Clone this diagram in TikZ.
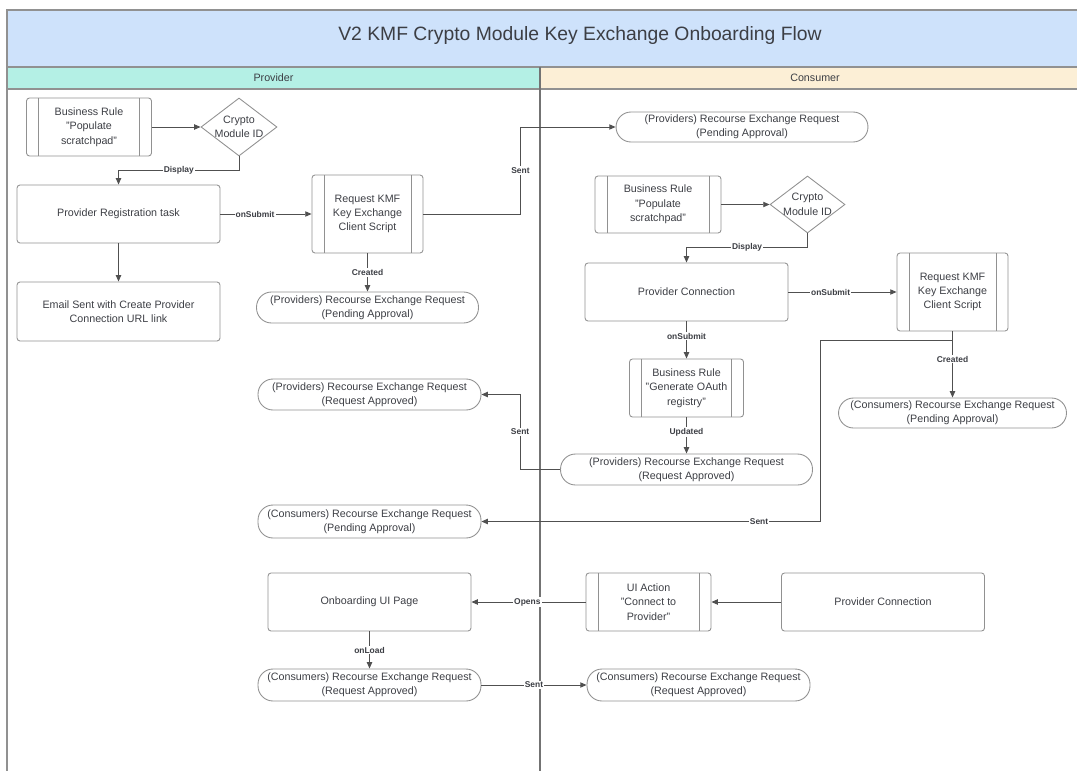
\documentclass[tikz,border=0pt]{standalone}
\usepackage{fontspec}
\setmainfont{Liberation Sans}
\usetikzlibrary{arrows.meta, shapes.geometric}
\definecolor{titleA}{RGB}{206, 226, 251}
\definecolor{provA} {RGB}{180, 240, 229}
\definecolor{consA} {RGB}{252, 239, 214}
\definecolor{edgeA} {RGB}{145, 145, 145}
\definecolor{lineA} {RGB}{80,  80,  80}
\definecolor{textA} {RGB}{60,  62,  68}

\tikzset{
  boxbase/.style={draw=edgeA, line width=0.5pt, text=textA, align=center,
    font=\fontsize{6.1}{8.2}\selectfont, inner sep=1pt},
  task/.style={boxbase, rectangle, rounded corners=0.06cm,
    minimum width=4.06cm, minimum height=1.16cm},
  rulebox/.style={task, minimum width=2.5cm, path picture={
      \draw[edgeA, line width=0.5pt]
        ([xshift=0.24cm]path picture bounding box.north west) -- ([xshift=0.24cm]path picture bounding box.south west)
        ([xshift=-0.24cm]path picture bounding box.north east) -- ([xshift=-0.24cm]path picture bounding box.south east);}},
  record/.style={boxbase, rectangle, rounded corners=0.3cm,
    minimum width=4.46cm, minimum height=0.64cm},
  choice/.style={boxbase, diamond, aspect=1.31, inner sep=-1.5pt,
    minimum width=1.52cm, minimum height=1.16cm},
  flow/.style={draw=lineA, line width=0.55pt, -{Triangle[length=3.6pt, width=3pt]}},
  tag/.style={fill=white, text=textA, inner sep=0.6pt,
    font=\fontsize{4.8}{5.5}\selectfont\bfseries},
}

\begin{document}
\begin{tikzpicture}[x=0.02cm, y=-0.02cm]
  \useasboundingbox (0,0) rectangle (1077,770);

  % lanes
  \fill[titleA] (7,10) rectangle (1090,67);
  \fill[provA]  (7,67) rectangle (540,89);
  \fill[consA]  (540,67) rectangle (1090,89);
  \draw[edgeA, line width=0.8pt] (1090,10) -- (7,10) -- (7,780);
  \draw[edgeA, line width=0.8pt] (7,67) -- (1090,67) (7,89) -- (1090,89);
  \draw[lineA!80, line width=0.6pt] (540,67) -- (540,780);

  \node[text=textA, font=\fontsize{11}{13}\selectfont] (title) at (580,35.5)
    {V2 KMF Crypto Module Key Exchange Onboarding Flow};
  \node[text=textA, font=\fontsize{6.1}{8}\selectfont] (provlane) at (273.5,78) {Provider};
  \node[text=textA, font=\fontsize{6.1}{8}\selectfont] (conslane) at (815,78) {Consumer};

  % provider side
  \node[rulebox] (br1) at (89,127) {Business Rule\\"Populate\\scratchpad"};
  \node[choice]  (d1)  at (239,127) {Crypto\\Module ID};
  \node[task]    (prt) at (118.5,214) {Provider Registration task};
  \node[task, minimum height=1.18cm] (email) at (118.5,311.5) {Email Sent with Create Provider\\Connection URL link};
  \node[rulebox, minimum width=2.22cm, minimum height=1.56cm] (rkmf1) at (367.5,214) {Request KMF\\Key Exchange\\Client Script};
  \node[record, minimum width=4.44cm, minimum height=0.62cm] (ppa0) at (367.5,307.5) {(Providers) Recourse Exchange Request\\(Pending Approval)};
  \node[record, minimum height=0.62cm] (pra1) at (369.5,394.5) {(Providers) Recourse Exchange Request\\(Request Approved)};
  \node[record, minimum height=0.66cm] (cpa0) at (369.5,521.5) {(Consumers) Recourse Exchange Request\\(Pending Approval)};
  \node[task]    (oui) at (369.5,602) {Onboarding UI Page};
  \node[record]  (cra0) at (369.5,685) {(Consumers) Recourse Exchange Request\\(Request Approved)};

  % consumer side
  \node[record, minimum width=5.04cm, minimum height=0.6cm] (ppa1) at (742,127) {(Providers) Recourse Exchange Request\\(Pending Approval)};
  \node[rulebox, minimum width=2.52cm, minimum height=1.14cm] (br2) at (658,204.5) {Business Rule\\"Populate\\scratchpad"};
  \node[choice, minimum width=1.5cm, minimum height=1.14cm] (d2) at (807.5,204.5) {Crypto\\Module ID};
  \node[task]    (pc) at (686.5,292) {Provider Connection};
  \node[rulebox, minimum width=2.22cm, minimum height=1.56cm] (rkmf2) at (952.5,292) {Request KMF\\Key Exchange\\Client Script};
  \node[record, minimum width=4.56cm, minimum height=0.6cm] (cpa) at (952.5,413) {(Consumers) Recourse Exchange Request\\(Pending Approval)};
  \node[rulebox, minimum width=2.28cm] (brg) at (686.5,388) {Business Rule\\"Generate OAuth\\registry"};
  \node[record, minimum width=5.04cm, minimum height=0.62cm] (pra2) at (686.5,469.5) {(Providers) Recourse Exchange Request\\(Request Approved)};
  \node[rulebox] (uia) at (648.5,602) {UI Action\\"Connect to\\Provider"};
  \node[task]    (pc2) at (883,602) {Provider Connection};
  \node[record]  (cra1) at (698.5,685) {(Consumers) Recourse Exchange Request\\(Request Approved)};
  \coordinate (sentturn) at (820,340);

  % connectors
  \draw[flow] (br1.east) -- (d1.west);
  \draw[flow] (d1.south) -- ++(0,14) -| node[tag, pos=0.25] {Display} (prt.north);
  \draw[flow] (prt.east) -- node[tag, pos=0.38] {onSubmit} (rkmf1.west);
  \draw[flow] (prt.south) -- (email.north);
  \draw[flow] (rkmf1.east) -- ++(97,0) |- node[tag, pos=0.25] {Sent} (ppa1.west);
  \draw[flow] (rkmf1.south) -- node[tag] {Created} (ppa0.north);

  \draw[flow] (br2.east) -- (d2.west);
  \draw[flow] (d2.south) -- ++(0,14) -| node[tag, pos=0.25] {Display} (pc.north);
  \draw[flow] (pc.east) -- node[tag, pos=0.39] {onSubmit} (rkmf2.west);
  \draw[flow] (pc.south) -- node[tag, pos=0.4] {onSubmit} (brg.north);
  \draw[flow] (rkmf2.south) -- node[tag, pos=0.42] {Created} (cpa.north);
  \draw[flow] (rkmf2.south) |- (sentturn) |- node[tag, pos=0.59] {Sent} (cpa0.east);
  \draw[flow] (brg.south) -- node[tag, pos=0.4] {Updated} (pra2.north);
  \draw[flow] (pra2.west) -- ++(-40,0) |- node[tag, pos=0.25] {Sent} (pra1.east);

  \draw[flow] (pc2.west) -- (uia.east);
  \draw[flow] (uia.west) -- node[tag, pos=0.51] {Opens} (oui.east);
  \draw[flow] (oui.south) -- node[tag] {onLoad} (cra0.north);
  \draw[flow] (cra0.east) -- node[tag] {Sent} (cra1.west);
\end{tikzpicture}
\end{document}
